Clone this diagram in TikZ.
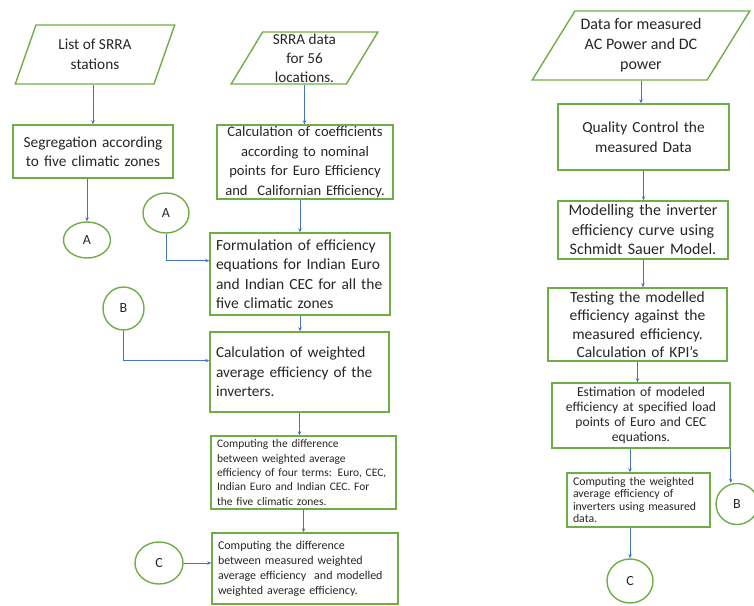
\documentclass[tikz,border=0pt]{standalone}
\usepackage{fontspec}
\setmainfont{Carlito}
\usepackage{xcolor}
\usetikzlibrary{arrows.meta,shapes.geometric,calc}
\definecolor{boxcol}{HTML}{70AD47}
\definecolor{flowcol}{HTML}{4472C4}
\definecolor{txtcol}{HTML}{262626}
\hyphenpenalty=10000

\begin{document}
\begin{tikzpicture}[
  x=1pt, y=-1pt,
  procbox/.style={draw=boxcol, line width=1.4pt, inner xsep=6pt, inner ysep=1pt, text=txtcol},
  databox/.style={trapezium, trapezium stretches=true, draw=boxcol, line width=1.4pt,
                  align=center, text=txtcol, inner sep=0pt},
  connector/.style={ellipse, draw=boxcol, line width=1.4pt, text=txtcol, inner sep=0pt,
                    font=\fontsize{14}{16}\selectfont},
  flow/.style={-{Stealth[length=4pt,width=3.5pt]}, draw=flowcol, line width=1pt},
  big/.style={font=\fontsize{15.3}{19.5}\selectfont},
]
\useasboundingbox (0,0) rectangle (754,605);

%============================ LEFT: SRRA STATIONS ============================
\node[databox, big, minimum width=160pt, minimum height=59pt,
      trapezium left angle=67, trapezium right angle=113] (srralist) at (95,54.5)
  {List of SRRA\\stations};
\node[procbox, big, align=center, text width=148pt, minimum height=53pt] (zones) at (93,151.5)
  {Segregation according\\to five climatic zones};
\node[connector, minimum width=47pt, minimum height=36pt] (ca1) at (87,240) {A};

%============================ MIDDLE: SRRA DATA ============================
\node[databox, font=\fontsize{15.2}{19}\selectfont, minimum width=147pt, minimum height=52pt,
      trapezium left angle=64, trapezium right angle=116] (srradata) at (304.5,58)
  {SRRA data\\for 56\\locations.};
\node[procbox, font=\fontsize{14.6}{19.5}\selectfont, align=center, inner xsep=2pt,
      text width=172pt, minimum height=74pt] (coef) at (305,162)
  {Calculation of coefficients\\according to nominal\\points for Euro Efficiency\\and~ Californian Efficiency.};
\node[procbox, font=\fontsize{15.5}{19.5}\selectfont, align=left, text width=168pt,
      minimum height=82pt] (form) at (300,274)
  {Formulation of efficiency\\equations for Indian Euro\\and Indian CEC for all the\\five climatic zones};
\node[procbox, big, align=left, text width=167pt, minimum height=80pt] (wavg) at (299.5,372)
  {Calculation of weighted\\average efficiency of the\\inverters.};
\node[procbox, font=\fontsize{11.5}{14.3}\selectfont, align=left, text width=173pt,
      minimum height=73pt] (diffa) at (303.5,472.5)
  {Computing the difference\\between weighted average\\efficiency of four terms: Euro, CEC,\\Indian Euro and Indian CEC. For\\the five climatic zones.};
\node[procbox, font=\fontsize{12}{15}\selectfont, align=left, text width=174pt,
      minimum height=71pt] (diffb) at (305,568.5)
  {Computing the difference\\between measured weighted\\average efficiency~ and modelled\\weighted average efficiency.};

% off-page connectors feeding the middle column
\node[connector, minimum width=46pt, minimum height=40pt] (ca2) at (166,213) {A};
\node[connector, minimum width=41pt, minimum height=43pt] (cb1) at (123.5,308.5) {B};
\node[connector, minimum width=48pt, minimum height=42pt] (cc1) at (159,563) {C};

%============================ RIGHT: MEASURED DATA ============================
\node[databox, font=\fontsize{16}{20}\selectfont, minimum width=218pt, minimum height=69pt,
      trapezium left angle=54, trapezium right angle=126] (acdc) at (641,45.5)
  {Data for measured\\AC Power and DC\\power};
\node[procbox, font=\fontsize{15.4}{20}\selectfont, align=center, text width=159pt,
      minimum height=66pt] (qc) at (643.5,137)
  {Quality Control the\\measured Data};
\node[procbox, font=\fontsize{16}{19.5}\selectfont, align=center, text width=158pt,
      minimum height=58pt] (model) at (643,230)
  {Modelling the inverter\\efficiency curve using\\Schmidt Sauer Model.};
\node[procbox, font=\fontsize{15.5}{18.5}\selectfont, align=center, text width=167pt,
      minimum height=73pt] (test) at (637.5,324.5)
  {Testing the modelled\\efficiency against the\\measured efficiency.\\Calculation of KPI's};
\node[procbox, font=\fontsize{13.6}{15}\selectfont, align=center, text width=166pt,
      minimum height=65pt] (est) at (641,415.5)
  {Estimation of modeled\\efficiency at specified load\\points of Euro and CEC\\equations.};
\node[procbox, font=\fontsize{11.8}{12.5}\selectfont, align=left, text width=131pt,
      minimum height=54pt] (cwm) at (638.5,500)
  {Computing the weighted\\average efficiency of\\inverters using measured\\data.};
\node[connector, minimum width=42pt, minimum height=41pt] (cb2) at (737,504) {B};
\node[connector, minimum width=46pt, minimum height=44pt] (cc2) at (630,581) {C};

%============================ FLOWS ============================
\draw[flow] (zones.north |- srralist.south) -- (zones.north);
\draw[flow] (ca1.north |- zones.south) -- (ca1.north);

\draw[flow] (srradata.south) -- (srradata.south |- coef.north);
\draw[flow] (form.north |- coef.south) -- (form.north);
\draw[flow] (ca2.south) |- ($(form.north west)!0.34!(form.south west)$);
\draw[flow] (form.south) -- (form.south |- wavg.north);
\draw[flow] (cb1.south) |- ($(wavg.north west)!0.36!(wavg.south west)$);
\draw[flow] (wavg.south) -- (wavg.south |- diffa.north);
\draw[flow] (diffa.south) -- (diffa.south |- diffb.north);
\draw[flow] (cc1.east) -- (cc1.east -| diffb.west);

\draw[flow] (acdc.south) -- (acdc.south |- qc.north);
\draw[flow] (qc.south) -- (qc.south |- model.north);
\draw[flow] (model.south) -- (model.south |- test.north);
\draw[flow] (test.south) -- (test.south |- est.north);
\draw[flow] (cc2.north |- est.south) -- (cc2.north |- cwm.north);
\draw[flow] (cc2.north |- cwm.south) -- (cc2.north);
\draw[flow] (est.south east) -- (est.south east |- cb2.north);

\end{tikzpicture}
\end{document}
